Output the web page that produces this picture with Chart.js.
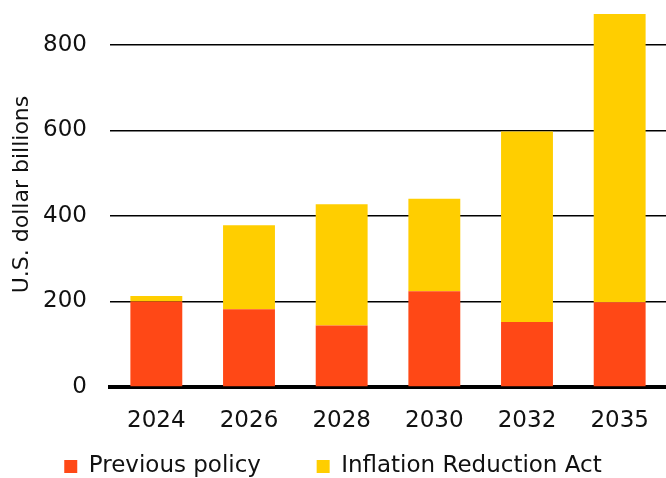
<!DOCTYPE html>
<html>
<head>
<meta charset="utf-8">
<script src="https://cdn.jsdelivr.net/npm/chart.js@4"></script>
<style>
  html, body { margin: 0; padding: 0; background: #fff; }
  #wrap { width: 666px; height: 478px; }
</style>
</head>
<body>
<div id="wrap"><canvas id="CHART"></canvas></div>
<script>
// DATA
const years = ['2024', '2026', '2028', '2030', '2032', '2035'];
const previousPolicy = [200, 182, 144, 224, 152, 198];
const inflationReductionAct = [13, 196, 283, 216, 445, 674];
const yTicks = [0, 200, 400, 600, 800];

const FONT = '"DejaVu Sans", sans-serif';

const chart = new Chart(document.getElementById('CHART'), {
    type: 'bar',
    data: {
        labels: years,
        datasets: [{
            label: 'Previous policy',
            data: previousPolicy,
            backgroundColor: '#ff4816',
            barPercentage: 0.56,
            categoryPercentage: 1,
        }, {
            label: 'Inflation Reduction Act',
            data: inflationReductionAct,
            backgroundColor: '#ffce00',
            barPercentage: 0.56,
            categoryPercentage: 1,
        }],
    },
    options: {
        responsive: true,
        maintainAspectRatio: false,
        animation: false,
        // legend sits partly below the bottom edge, like the original
        layout: { padding: { top: 2, left: 0, right: 0, bottom: -10 } },
        plugins: {
            tooltip: { enabled: false },
            legend: {
                position: 'bottom',
                labels: {
                    boxWidth: 13,
                    boxHeight: 13,
                    padding: 12,
                    color: '#111',
                    font: { family: FONT, size: 23, lineHeight: 1 },
                    generateLabels: (c) => {
                        const items = Chart.defaults.plugins.legend.labels.generateLabels(c);
                        items.forEach((it, i) => {
                            it.lineWidth = 0;
                            // extra room between the two legend entries
                            if (i === 0) it.text = it.text + '\u2003\u2002\u2009\u2009';
                        });
                        return items;
                    },
                },
            },
        },
        scales: {
            x: {
                stacked: true,
                z: 1,
                grid: { display: false, drawTicks: false },
                border: { display: true, color: '#000', width: 4 },
                ticks: { color: '#111', padding: 23, font: { family: FONT, size: 23, lineHeight: 1 } },
                afterFit: (scale) => {
                    scale.height = 56;
                    scale.paddingLeft = 0;
                    scale.paddingRight = 0;
                },
            },
            y: {
                stacked: true,
                min: 0,
                max: 900,
                afterBuildTicks: (scale) => {
                    scale.ticks = yTicks.map(v => ({ value: v }));
                },
                afterFit: (scale) => {
                    scale.width = 110;
                    scale.paddingTop = 0;
                    scale.paddingBottom = 0;
                },
                grid: {
                    drawTicks: false,
                    color: '#000',
                    lineWidth: 1.5,
                },
                border: { display: false },
                ticks: { color: '#111', padding: 23, font: { family: FONT, size: 23 } },
                title: {
                    display: true,
                    text: 'U.S. dollar billions',
                    color: '#111',
                    font: { family: FONT, size: 22 },
                    padding: { top: 9, bottom: 8 },
                },
            },
        },
    },
});
</script>
</body>
</html>
